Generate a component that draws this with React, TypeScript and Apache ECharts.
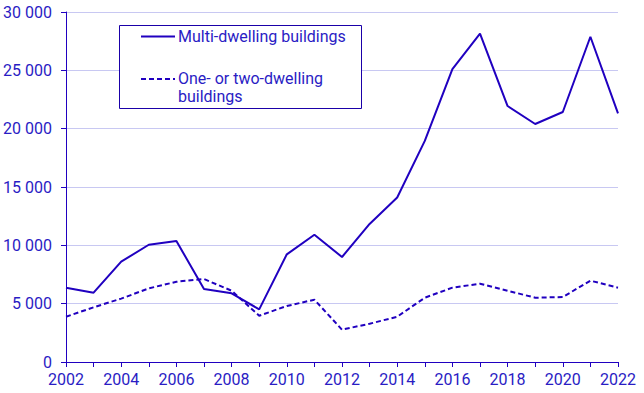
import React, { useEffect, useRef } from "react";
import * as echarts from "echarts";

const years = ["2002","2003","2004","2005","2006","2007","2008","2009","2010","2011","2012","2013","2014","2015","2016","2017","2018","2019","2020","2021","2022"];
const multiDwelling = [6370,5940,8600,10050,10370,6260,5890,4510,9230,10910,9000,11830,14100,18950,25110,28140,21940,20400,21430,27880,21310];
const oneTwoDwelling = [3880,4690,5430,6310,6880,7110,6110,3970,4800,5340,2770,3280,3880,5510,6370,6710,6110,5510,5570,6970,6370];
const seriesNames = ["Multi-dwelling buildings", "One- or two-dwelling buildings"];
const legendLabels = ["Multi-dwelling buildings", "One- or two-dwelling\nbuildings"];

const LINE = "#2000c0";
const TEXT = "#2a1cc4";
const GRID = "#c8c8f2";
const FONT = "Roboto, 'Liberation Sans', sans-serif";

export default function App() {
  const ref = useRef<HTMLDivElement>(null);
  useEffect(() => {
    if (!ref.current) return;
    const chart = echarts.init(ref.current, undefined, { renderer: "svg" });
    chart.setOption({
      animation: false,
      grid: { left: 66, right: 26, top: 12, bottom: 31, containLabel: false },
      xAxis: {
        type: "category",
        data: years,
        boundaryGap: false,
        axisLine: { lineStyle: { color: LINE, width: 1 } },
        axisTick: { show: true, length: 5, interval: 0, lineStyle: { color: LINE } },
        axisLabel: { color: TEXT, fontSize: 16, fontFamily: FONT, interval: 1, margin: 9 },
        splitLine: { show: false },
      },
      yAxis: {
        type: "value",
        min: 0,
        max: 30000,
        interval: 5000,
        axisLine: { show: true, lineStyle: { color: LINE, width: 1 } },
        axisTick: { show: true, length: 5, lineStyle: { color: LINE } },
        axisLabel: {
          color: TEXT,
          fontSize: 16,
          fontFamily: FONT,
          margin: 14,
          formatter: (v: number) => String(v).replace(/\B(?=(\d{3})+(?!\d))/g, " "),
        },
        splitLine: { show: true, lineStyle: { color: GRID, width: 1 } },
      },
      series: [
        {
          name: seriesNames[0],
          type: "line",
          data: multiDwelling,
          symbol: "none",
          lineStyle: { color: LINE, width: 2 },
          z: 3,
        },
        {
          name: seriesNames[1],
          type: "line",
          data: oneTwoDwelling,
          symbol: "none",
          lineStyle: { color: LINE, width: 2, type: [5, 3] },
          z: 2,
        },
      ],
      graphic: [
        {
          type: "rect",
          shape: { x: 119.5, y: 25.5, width: 242, height: 83 },
          style: { fill: "#ffffff", stroke: "#1a00a8", lineWidth: 1 },
          z: 10,
        },
        {
          type: "line",
          shape: { x1: 141, y1: 36.5, x2: 175, y2: 36.5 },
          style: { stroke: LINE, lineWidth: 2 },
          z: 11,
        },
        {
          type: "text",
          x: 178,
          y: 36.5,
          style: { text: legendLabels[0], fill: TEXT, font: `16px ${FONT}`, verticalAlign: "middle" },
          z: 11,
        },
        {
          type: "line",
          shape: { x1: 141, y1: 79, x2: 175, y2: 79 },
          style: { stroke: LINE, lineWidth: 2, lineDash: [5, 3] },
          z: 11,
        },
        {
          type: "text",
          x: 178,
          y: 69,
          style: { text: legendLabels[1], fill: TEXT, font: `16px ${FONT}`, verticalAlign: "top", lineHeight: 18 },
          z: 11,
        },
      ],
    });
    return () => chart.dispose();
  }, []);
  return <div ref={ref} style={{ width: 644, height: 393, position: "absolute", left: 0, top: 0 }} />;
}
